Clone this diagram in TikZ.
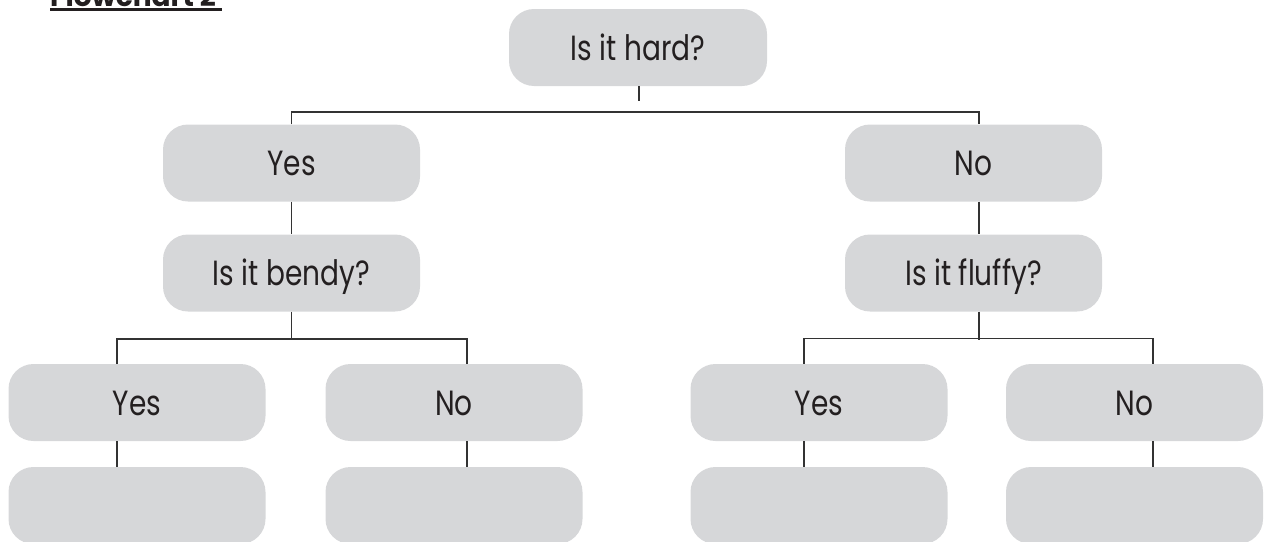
\documentclass[tikz,border=0pt]{standalone}
\usepackage{fontspec}
\setmainfont{Poppins}
\newfontfamily\cardfont{Poppins}[FakeStretch=0.8]
\usetikzlibrary{calc}
\definecolor{boxgray}{HTML}{D6D7D9}
\definecolor{ink}{HTML}{231F20}
\definecolor{wire}{HTML}{333333}
\tikzset{
  card/.style={fill=boxgray, draw=none, rounded corners=25pt,
    minimum width=257pt, minimum height=77pt, inner sep=0pt,
    text=ink, font=\cardfont\fontsize{35}{35}\selectfont,
    text height=25pt, text depth=0pt},
  link/.style={draw=wire, line width=1.4pt}
}
\begin{document}
\begin{tikzpicture}[x=1pt, y=-1pt]
  \useasboundingbox (0,0) rectangle (1269,541);
  \clip (0,0) rectangle (1269,541);

  % heading, mostly above the page edge
  \node[anchor=base west, inner sep=0pt, text=ink,
        font=\bfseries\fontsize{28}{28}\selectfont] (title) at (50,6) {Flowchart 2};
  \draw[draw=ink, line width=2.6pt] (title.base west |- 0,9.5) -- (222,9.5);

  % question and answer cards
  \node[card, minimum width=258pt] (hard) at (638,47.5) {Is it hard?};
  \node[card] (yesA) at (291.5,163) {Yes};
  \node[card] (noA)  at (973.5,163) {No};
  \node[card] (bendy)  at (291.5,273) {Is it bendy?};
  \node[card] (fluffy) at (973.5,273) {Is it fluffy?};
  \node[card] (yesB) at (137,402.5) {Yes};
  \node[card] (noB)  at (454,402.5) {No};
  \node[card] (yesC) at (819,402.5) {Yes};
  \node[card] (noC)  at (1134.5,402.5) {No};
  \node[card] (endB1) at (137,505.5) {};
  \node[card] (endB2) at (454,505.5) {};
  \node[card] (endC1) at (819,505.5) {};
  \node[card] (endC2) at (1134.5,505.5) {};

  % branching wires
  \coordinate (stemHard) at (639,101);
  \draw[link] (hard.south -| stemHard) -- (stemHard);
  \coordinate (busA) at (0,112);
  \coordinate (dropNoA) at ($(noA.north)+(5.5,0)$);
  \draw[link] (yesA.north) -- (yesA.north |- busA) -- (dropNoA |- busA) -- (dropNoA);

  \draw[link] (yesA.south) -- (bendy.north);
  \draw[link] (dropNoA |- noA.south) -- (dropNoA |- fluffy.north);

  \coordinate (busB) at (0,339);
  \coordinate (dropYesB) at ($(yesB.north)+(-20,0)$);
  \coordinate (dropNoB)  at ($(noB.north)+(13,0)$);
  \draw[link] (bendy.south) -- (bendy.south |- busB);
  \draw[link] (dropYesB) -- (dropYesB |- busB) -- (dropNoB |- busB) -- (dropNoB);
  \draw[link] (dropYesB |- yesB.south) -- (dropYesB |- endB1.north);
  \draw[link] (dropNoB |- noB.south) -- (dropNoB |- endB2.north);

  \coordinate (busC) at (0,338.5);
  \coordinate (dropYesC) at ($(yesC.north)+(-15,0)$);
  \coordinate (dropNoC)  at ($(noC.north)+(18.5,0)$);
  \draw[link] (dropNoA |- fluffy.south) -- (dropNoA |- 0,340);
  \draw[link] (dropYesC) -- (dropYesC |- busC) -- (dropNoC |- busC) -- (dropNoC);
  \draw[link] (dropYesC |- yesC.south) -- (dropYesC |- endC1.north);
  \draw[link] (dropNoC |- noC.south) -- (dropNoC |- endC2.north);
\end{tikzpicture}
\end{document}
